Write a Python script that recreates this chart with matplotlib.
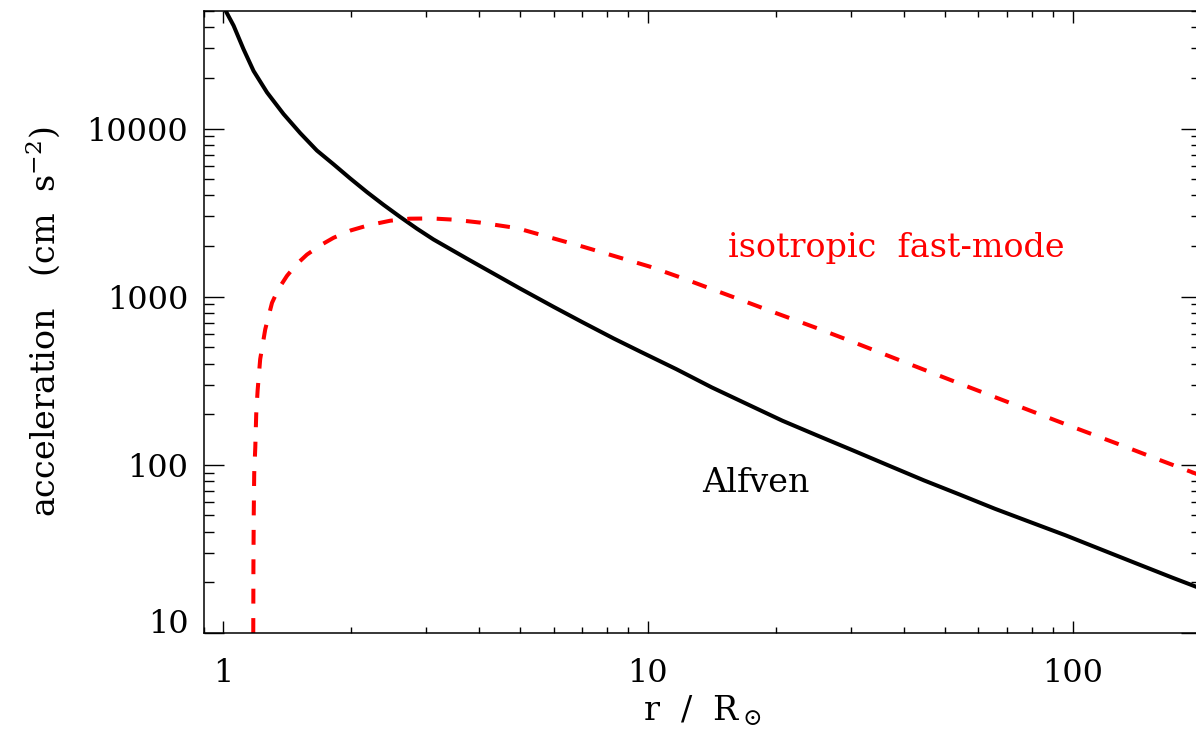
import matplotlib
matplotlib.use("Agg")
import matplotlib.pyplot as plt
from matplotlib.ticker import LogLocator, FixedLocator, FixedFormatter, NullFormatter

# --- data ---
alfven_r = [1.0, 1.021, 1.059, 1.117, 1.18, 1.269, 1.388, 1.519, 1.663, 1.82,
            1.992, 2.181, 2.386, 2.612, 2.859, 3.128, 3.749, 4.5, 5.0, 6.0,
            7.0, 8.3, 9.62, 11.66, 14.13, 17.11, 20.73, 25.12, 30.43, 36.87,
            44.67, 54.1, 65.6, 79.4, 96.2, 116.6, 141.3, 171.1, 200.0]
alfven_a = [54000, 48600, 40900, 29700, 22000, 16400, 12200, 9400, 7400, 6130,
            5050, 4190, 3520, 2980, 2540, 2190, 1685, 1300, 1119, 870,
            707, 565, 470, 371, 289, 230, 183, 149, 121.7, 99.1,
            80.8, 66.7, 54.8, 45.7, 38.1, 31.4, 25.9, 21.4, 18.4]

fast_r = [1.178, 1.179, 1.181, 1.184, 1.191, 1.197, 1.206, 1.223, 1.257, 1.304,
          1.35, 1.414, 1.49, 1.576, 1.70, 1.82, 2.0, 2.2, 2.474, 2.75,
          3.1, 3.5, 4.029, 4.915, 6.0, 7.05, 8.5, 10.1, 12.0, 14.0,
          16.5, 20.0, 25.0, 30.0, 40.0, 55.0, 75.0, 100.0, 130.0, 160.0, 200.0]
fast_a = [10, 25, 50, 88.5, 127, 200, 276, 425, 640, 920,
          1110, 1330, 1560, 1780, 2030, 2240, 2480, 2660, 2830, 2910,
          2920, 2870, 2758, 2559, 2220, 1980, 1720, 1510, 1295, 1120,
          960, 800, 650, 545, 410, 300, 222, 168, 131, 107, 86.5]

x_ticks = [1, 10, 100]
x_tick_labels = ["1", "10", "100"]
y_ticks = [10, 100, 1000, 10000]
y_tick_labels = ["10", "100", "1000", "10000"]

plt.rcParams['font.family'] = ['DejaVu Serif']
plt.rcParams['mathtext.fontset'] = 'dejavuserif'

W, H = 1196, 734
fig = plt.figure(figsize=(W / 100, H / 100), dpi=100)
left, right, bottom, top = 203.6, 1200.6, 633, 11
ax = fig.add_axes([left / W, (H - bottom) / H, (right - left) / W, (bottom - top) / H])

ax.set_xscale('log')
ax.set_yscale('log')
ax.set_xlim(0.9, 200)
ax.set_ylim(10, 5e4)

ax.plot(alfven_r, alfven_a, color='black', lw=2.9, solid_capstyle='butt',
        solid_joinstyle='round')
ax.plot(fast_r, fast_a, color='#ff0000', lw=2.9, dashes=(3.7, 3.6),
        dash_capstyle='butt', dash_joinstyle='round')

fs = 23
afs = 24
ax.text(38.37, 1717, "isotropic  fast-mode", color='#ff0000', fontsize=afs,
        ha='center', va='baseline')
ax.text(17.98, 68.8, "Alfven", color='black', fontsize=afs, ha='center', va='baseline')

ax.xaxis.set_major_locator(FixedLocator(x_ticks))
ax.xaxis.set_major_formatter(FixedFormatter(x_tick_labels))
ax.xaxis.set_minor_locator(LogLocator(base=10, subs=range(2, 10), numticks=20))
ax.xaxis.set_minor_formatter(NullFormatter())
ax.yaxis.set_major_locator(FixedLocator(y_ticks))
ax.yaxis.set_major_formatter(FixedFormatter(y_tick_labels))
ax.yaxis.set_minor_locator(LogLocator(base=10, subs=range(2, 10), numticks=20))
ax.yaxis.set_minor_formatter(NullFormatter())

ax.tick_params(axis='both', which='both', direction='in', top=True, right=True,
               labelsize=fs, colors='black')
ax.tick_params(axis='y', which='major', length=14.4, width=1.0, pad=11)
ax.tick_params(axis='y', which='minor', length=7.2, width=1.0)
ax.tick_params(axis='x', which='major', length=8.9, width=1.0, pad=18)
ax.tick_params(axis='x', which='minor', length=4.5, width=1.0)
for s in ax.spines.values():
    s.set_linewidth(1.1)

# lowest y label sits on the bottom axis line in the reference
ax.yaxis.get_major_ticks()[0].label1.set_verticalalignment('baseline')

ax.set_xlabel(r"r  /  R$_\odot$", fontsize=afs, va='top')
ax.xaxis.set_label_coords(0.5, (633 - 694) / 622)
ax.set_ylabel(r"acceleration   (cm  s$^{-2}$)", fontsize=afs)
ax.yaxis.set_label_coords((62 - 203.6) / 997, 0.5)

fig.savefig("out.png", dpi=100)
